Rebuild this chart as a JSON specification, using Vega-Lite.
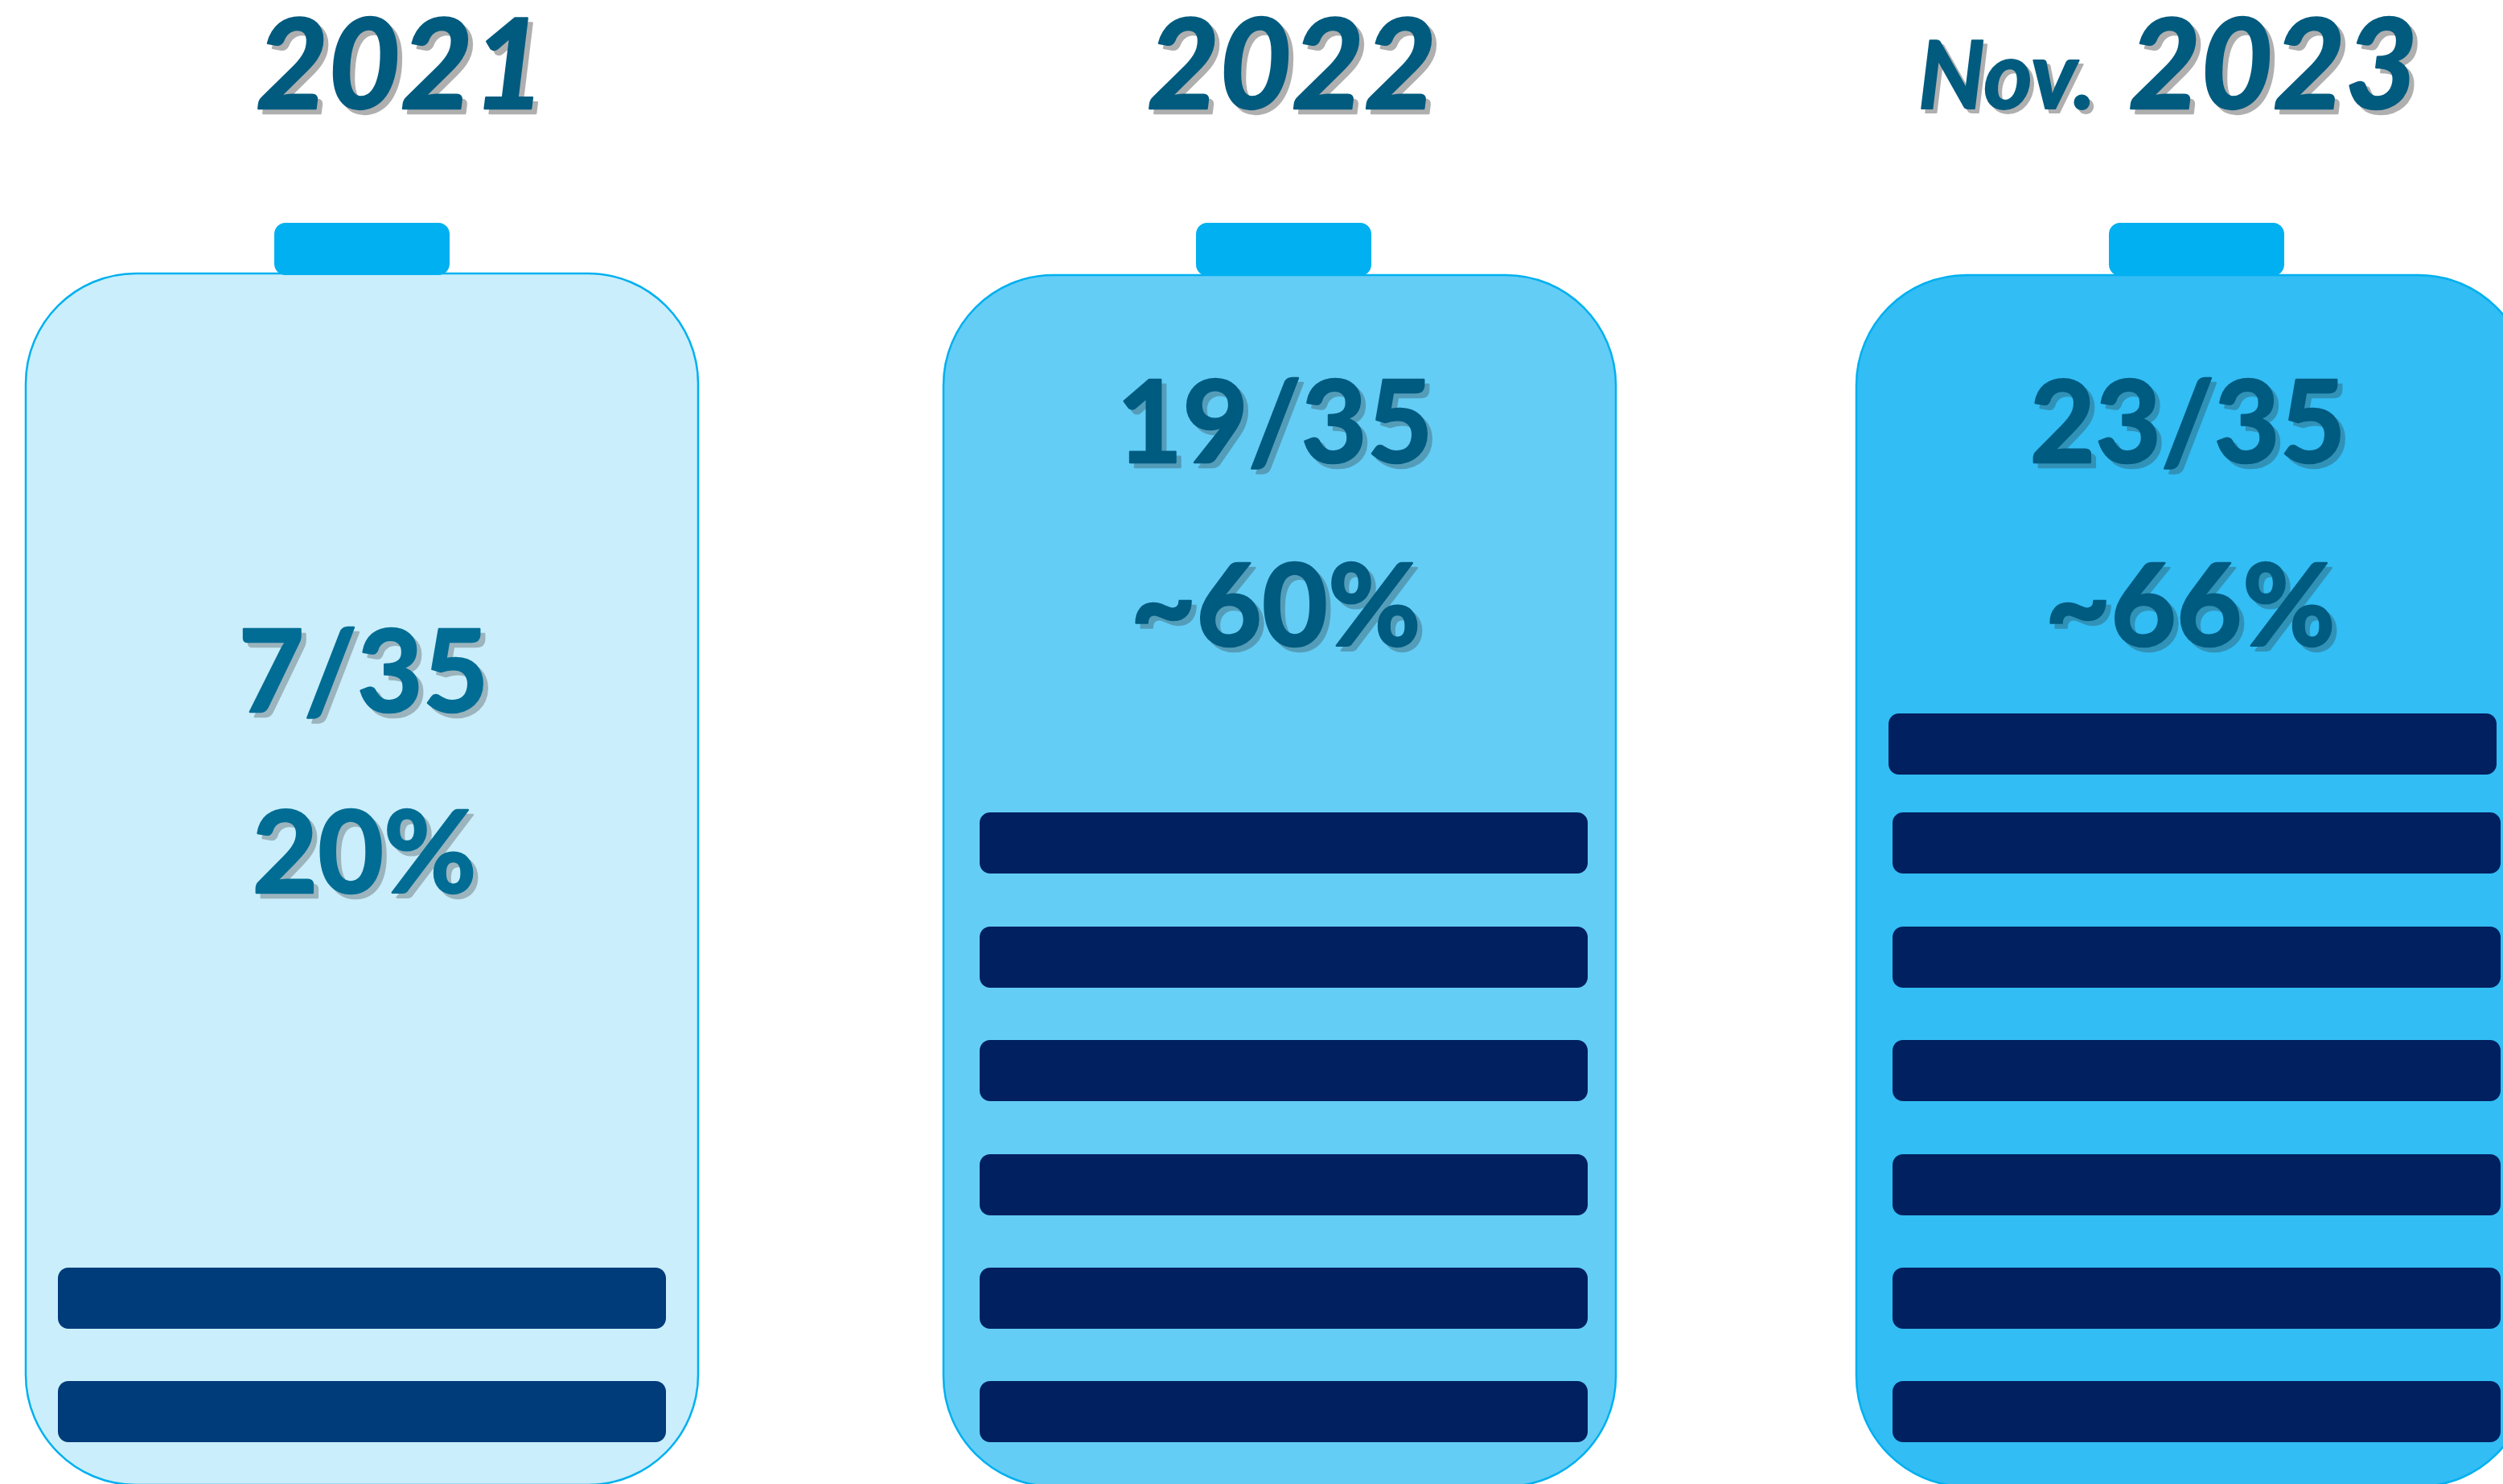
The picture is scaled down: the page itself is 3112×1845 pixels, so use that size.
{
  "$schema": "https://vega.github.io/schema/vega-lite/v6.json",
  "autosize": {"type": "fit", "contains": "padding"},
  "width": 3112,
  "height": 1845,
  "padding": 0,
  "background": "#ffffff",
  "view": {"stroke": null},
  "config": {"axis": {"disable": true}, "legend": {"disable": true}},
  "datasets": {
    "shells": [
      {"period": "2021", "left": 32, "right": 868, "top": 340, "bottom": 1846},
      {"period": "2022", "left": 1173, "right": 2009, "top": 342, "bottom": 1848},
      {"period": "2023", "left": 2308, "right": 3144, "top": 342, "bottom": 1848}
    ],
    "caps": [
      {"period": "2021", "left": 341, "right": 559, "top": 277, "bottom": 342},
      {"period": "2022", "left": 1487, "right": 1705, "top": 277, "bottom": 343},
      {"period": "2023", "left": 2622, "right": 2840, "top": 277, "bottom": 343}
    ],
    "cells": [
      {"period": "2021", "left": 72, "right": 828, "top": 1576, "bottom": 1652},
      {"period": "2021", "left": 72, "right": 828, "top": 1717, "bottom": 1793},
      {"period": "2022", "left": 1218, "right": 1974, "top": 1010, "bottom": 1086},
      {"period": "2022", "left": 1218, "right": 1974, "top": 1152, "bottom": 1228},
      {"period": "2022", "left": 1218, "right": 1974, "top": 1293, "bottom": 1369},
      {"period": "2022", "left": 1218, "right": 1974, "top": 1435, "bottom": 1511},
      {"period": "2022", "left": 1218, "right": 1974, "top": 1576, "bottom": 1652},
      {"period": "2022", "left": 1218, "right": 1974, "top": 1717, "bottom": 1793},
      {"period": "2023", "left": 2348, "right": 3104, "top": 887, "bottom": 963},
      {"period": "2023", "left": 2353, "right": 3109, "top": 1010, "bottom": 1086},
      {"period": "2023", "left": 2353, "right": 3109, "top": 1152, "bottom": 1228},
      {"period": "2023", "left": 2353, "right": 3109, "top": 1293, "bottom": 1369},
      {"period": "2023", "left": 2353, "right": 3109, "top": 1435, "bottom": 1511},
      {"period": "2023", "left": 2353, "right": 3109, "top": 1576, "bottom": 1652},
      {"period": "2023", "left": 2353, "right": 3109, "top": 1717, "bottom": 1793}
    ],
    "headings": [
      {"kind": "year", "label": "2021", "cx": 498, "baseline": 135},
      {"kind": "year", "label": "2022", "cx": 1606, "baseline": 135},
      {"kind": "year", "label": "2023", "cx": 2826, "baseline": 135},
      {"kind": "month", "label": "Nov.", "cx": 2495, "baseline": 135}
    ],
    "stats": [
      {"period": "2021", "label": "7/35", "cx": 452, "baseline": 885},
      {"period": "2021", "label": "20%", "cx": 453, "baseline": 1110},
      {"period": "2022", "label": "19/35", "cx": 1585, "baseline": 575},
      {"period": "2022", "label": "~60%", "cx": 1586, "baseline": 803},
      {"period": "2023", "label": "23/35", "cx": 2720, "baseline": 575},
      {"period": "2023", "label": "~66%", "cx": 2723, "baseline": 803}
    ]
  },
  "encoding": {
    "x": {"type": "quantitative", "scale": {"domain": [0, 3112], "nice": false, "zero": false}, "axis": null},
    "y": {"type": "quantitative", "scale": {"domain": [0, 1845], "nice": false, "zero": false, "reverse": true}, "axis": null}
  },
  "layer": [
    {
      "data": {"name": "shells"},
      "mark": {"type": "rect", "cornerRadius": 137, "stroke": "#00B0F0", "strokeWidth": 2.5, "clip": true},
      "encoding": {
        "x": {"field": "left", "type": "quantitative"},
        "x2": {"field": "right"},
        "y": {"field": "top", "type": "quantitative"},
        "y2": {"field": "bottom"},
        "fill": {"field": "period", "type": "nominal", "scale": {"domain": ["2021", "2022", "2023"], "range": ["#CAEEFB", "#64CDF6", "#32BDF4"]}, "legend": null}
      }
    },
    {
      "data": {"name": "caps"},
      "mark": {"type": "rect", "cornerRadius": 14, "fill": "#00B0F0", "clip": true},
      "encoding": {
        "x": {"field": "left", "type": "quantitative"},
        "x2": {"field": "right"},
        "y": {"field": "top", "type": "quantitative"},
        "y2": {"field": "bottom"}
      }
    },
    {
      "data": {"name": "cells"},
      "mark": {"type": "rect", "cornerRadius": 13, "clip": true},
      "encoding": {
        "x": {"field": "left", "type": "quantitative"},
        "x2": {"field": "right"},
        "y": {"field": "top", "type": "quantitative"},
        "y2": {"field": "bottom"},
        "color": {"field": "period", "type": "nominal", "scale": {"domain": ["2021", "2022", "2023"], "range": ["#003B7A", "#00205F", "#00205F"]}, "legend": null}
      }
    },
    {
      "data": {"name": "headings"},
      "transform": [{"filter": "datum.kind === 'year'"}],
      "mark": {"type": "text", "font": "Lato", "fontWeight": "bold", "fontStyle": "italic", "fontSize": 155, "baseline": "alphabetic", "align": "center", "dx": 6, "dy": 6, "fill": "#303030", "stroke": "#303030", "strokeWidth": 2.5, "strokeJoin": "round", "opacity": 0.38},
      "encoding": {"x": {"field": "cx", "type": "quantitative"}, "y": {"field": "baseline", "type": "quantitative"}, "text": {"field": "label"}}
    },
    {
      "data": {"name": "headings"},
      "transform": [{"filter": "datum.kind === 'year'"}],
      "mark": {"type": "text", "font": "Lato", "fontWeight": "bold", "fontStyle": "italic", "fontSize": 155, "baseline": "alphabetic", "align": "center", "fill": "#005B7F", "stroke": "#005B7F", "strokeWidth": 2.5, "strokeJoin": "round"},
      "encoding": {"x": {"field": "cx", "type": "quantitative"}, "y": {"field": "baseline", "type": "quantitative"}, "text": {"field": "label"}}
    },
    {
      "data": {"name": "headings"},
      "transform": [{"filter": "datum.kind === 'month'"}],
      "mark": {"type": "text", "font": "Lato", "fontWeight": "bold", "fontStyle": "italic", "fontSize": 116, "baseline": "alphabetic", "align": "center", "dx": 5, "dy": 5, "fill": "#303030", "stroke": "#303030", "strokeWidth": 2, "strokeJoin": "round", "opacity": 0.38},
      "encoding": {"x": {"field": "cx", "type": "quantitative"}, "y": {"field": "baseline", "type": "quantitative"}, "text": {"field": "label"}}
    },
    {
      "data": {"name": "headings"},
      "transform": [{"filter": "datum.kind === 'month'"}],
      "mark": {"type": "text", "font": "Lato", "fontWeight": "bold", "fontStyle": "italic", "fontSize": 116, "baseline": "alphabetic", "align": "center", "fill": "#005B7F", "stroke": "#005B7F", "strokeWidth": 2, "strokeJoin": "round"},
      "encoding": {"x": {"field": "cx", "type": "quantitative"}, "y": {"field": "baseline", "type": "quantitative"}, "text": {"field": "label"}}
    },
    {
      "data": {"name": "stats"},
      "mark": {"type": "text", "font": "Lato", "fontWeight": "bold", "fontSize": 141, "baseline": "alphabetic", "align": "center", "dx": 6, "dy": 6, "fill": "#303030", "stroke": "#303030", "strokeWidth": 2.5, "strokeJoin": "round", "opacity": 0.3},
      "encoding": {"x": {"field": "cx", "type": "quantitative"}, "y": {"field": "baseline", "type": "quantitative"}, "text": {"field": "label"}}
    },
    {
      "data": {"name": "stats"},
      "mark": {"type": "text", "font": "Lato", "fontWeight": "bold", "fontSize": 141, "baseline": "alphabetic", "align": "center", "strokeWidth": 2.5, "strokeJoin": "round"},
      "encoding": {
        "x": {"field": "cx", "type": "quantitative"},
        "y": {"field": "baseline", "type": "quantitative"},
        "text": {"field": "label"},
        "fill": {"field": "period", "type": "nominal", "scale": {"domain": ["2021", "2022", "2023"], "range": ["#016D95", "#005B80", "#005B80"]}, "legend": null},
        "stroke": {"field": "period", "type": "nominal", "scale": {"domain": ["2021", "2022", "2023"], "range": ["#016D95", "#005B80", "#005B80"]}, "legend": null}
      }
    }
  ],
  "resolve": {"scale": {"color": "independent", "fill": "independent", "stroke": "independent"}}
}
